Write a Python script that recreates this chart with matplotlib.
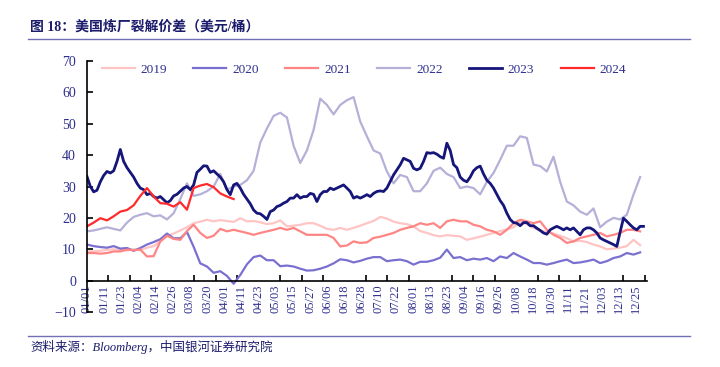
import numpy as np
import matplotlib
matplotlib.use("Agg")
from matplotlib import pyplot as plt
from matplotlib.lines import Line2D

plt.rcParams['font.family'] = ['Liberation Serif', 'Noto Sans CJK SC', 'DejaVu Sans']

# x axis: trading-day index of the year, labels every 8 days, tick marks every 10
date_labels = ["01/01", "01/11", "01/23", "02/04", "02/14", "02/26", "03/08", "03/20",
               "04/01", "04/11", "04/23", "05/03", "05/15", "05/27", "06/06", "06/18",
               "06/28", "07/10", "07/22", "08/01", "08/13", "08/23", "09/04", "09/16",
               "09/26", "10/08", "10/18", "10/30", "11/11", "11/21", "12/03", "12/13",
               "12/25"]
n_days = 261

# sampling step (trading days) of the values
step = 3.106
fine_step = step / 2

years = ["2019", "2020", "2021", "2022", "2023", "2024"]
colors = ["#FFC4C4", "#7A70D0", "#FF8585", "#B4B0D8", "#15157A", "#FF2B2B"]

s2019 = [9.3, 9.3, 9.5, 9.8, 10, 9.8, 9.6, 10, 9.7, 10.5, 11, 12.5, 14.2, 15, 16, 17,
         18.3, 18.8, 19.4, 18.9, 19.3, 19, 18.7, 19.9, 18.9, 19, 18.6, 18, 18.3, 19.2,
         17.3, 17.5, 17.8, 18.3, 18.3, 17.5, 16.5, 16.2, 16.8, 16.2, 16.8, 17.5, 18.3,
         19.0, 20.3, 19.8, 18.8, 18.3, 18.0, 17.3, 15.8, 15.2, 14.5, 14.1, 14.5, 14.3,
         14.1, 13.0, 13.5, 14.0, 14.6, 15.2, 15.8, 16.3, 17.0, 18.7, 18.0, 16.8, 16.0,
         15.5, 15.0, 14.3, 13.5, 12.5, 12.7, 12.3, 11.5, 10.9, 10.0, 10.2, 10.5, 11.0,
         13.0, 11.3]

s2020 = [11.5, 11, 10.7, 10.5, 11, 10.2, 10.4, 9.5, 10.4, 11.5, 12.3, 13.2, 15, 13.5,
         13.5, 15.5, 10.8, 5.5, 4.5, 2.5, 3.0, 1.5, -1.0, 1.8, 5.2, 7.5, 8.0, 6.5, 6.5,
         4.6, 4.8, 4.5, 3.8, 3.2, 3.3, 3.8, 4.5, 5.5, 6.8, 6.5, 5.8, 6.3, 7.0,
         7.5, 7.5, 6.2, 6.5, 6.7, 6.2, 5.1, 6.0, 6.0, 6.5, 7.3, 9.9, 7.2, 7.5, 6.5, 7.0,
         6.7, 7.2, 6.2, 7.7, 7.2, 8.8, 7.7, 6.7, 5.6, 5.6, 5.1, 5.6, 6.2, 6.7, 5.6, 5.8,
         6.2, 6.7, 5.6, 6.2, 7.2, 7.7, 8.8, 8.3, 9.0]

s2021 = [8.8, 8.8, 8.6, 8.8, 9.3, 9.3, 9.9, 9.7, 9.9, 7.7, 7.8, 12.5, 14.3, 13.3, 13.0,
         15.8, 17.8, 15.2, 13.6, 14.3, 16.5, 15.7, 16.2, 15.7, 15.2, 14.6, 15.2, 15.7,
         16.2, 16.8, 16.2, 16.8, 15.7, 14.6, 14.6, 14.6, 14.6, 13.6, 10.9, 11.2, 12.5,
         12.0, 12.2,
         13.6, 14.0, 14.6, 15.2, 16.2, 16.8, 17.3, 18.3, 17.8, 18.3, 16.8, 18.9, 19.4,
         18.9, 18.9, 17.8, 17.3, 16.2, 15.7, 14.6, 16.2, 18.3, 19.4, 18.9, 18.3, 18.9,
         16.2, 14.6, 13.6, 12.0, 12.5, 13.6, 14.1, 14.6, 15.2, 14.1, 14.6, 15.2, 16.2,
         16.2, 15.7]

s2022 = [15.7, 16.0, 16.5, 17.0, 16.5, 16.0, 18.5, 20.3, 21.0, 21.5, 20.5, 20.8, 19.5,
         21.5, 26.0, 31.0, 27.0,
         27.5, 28.5, 30, 34, 29, 30, 30.5, 32, 35, 44, 48.5, 52.5, 53.5, 52, 43, 37.5, 41.5,
         48, 58, 56, 53, 56, 57.5, 58.5, 50.7, 46, 41.5, 40.5, 34.8, 31, 33.7, 33, 28.5,
         28.5,
         31, 35, 36, 34, 33, 29.5, 30, 29.5, 27.5, 31.5, 34.3, 38.5, 43, 43, 46, 45.5, 37,
         36.5,
         34.8, 39.5, 31.5, 25.2, 24, 22, 21, 23, 17, 18.8, 20, 19.5, 21, 27.4, 33]

# 2023 read at twice the density
s2023 = [33.2, 30, 28.3, 28.8, 31.5, 33.5, 34.8, 34.3, 35, 38, 41.8, 38, 36, 34.5, 33,
         31, 29.5, 29, 27.4, 27.8, 26.8, 26.3, 26.8, 25.8, 24.8, 25.5, 27, 27.5, 28.5,
         29.5, 30, 29, 30.5,
         34.5, 35.5, 36.6, 36.5, 34.5, 35, 34, 33, 31.5, 29, 27.4, 30.5, 31, 29.5, 27.5,
         26, 24.5, 22.5, 21.5, 21.3, 20.5, 19.5, 22, 22.5, 23.6, 24, 24.7, 25.2, 26.3,
         26.3, 27.4, 26.3, 26.8, 26.8, 27.8,
         27.5, 25.2, 27.4, 28.4, 28.4, 29.5, 29, 29.5, 30, 30.5, 29.5, 28.4, 26.3, 26.8,
         26.3, 26.8, 27.4, 26.8, 27.8, 28.4, 28.6, 28.4, 29.5, 31.6, 33.7, 35.3, 36.9, 39,
         38.5, 38, 35.8, 35.3, 35.8, 38,
         40.8, 40.6, 40.8, 40.3, 39.5, 39, 43.8, 41.5, 37, 36, 33, 32, 31.5, 33, 35, 36,
         36.5, 34, 32, 31, 29.5, 27.5, 25.5, 24, 21.5, 19.5, 18.5, 18.3, 17.5, 18.5, 18.5,
         17.5, 17.5, 16.7, 16,
         15.2, 14.8, 16.2, 16.8, 17.3, 16.8, 16.2, 16.8, 16.2, 16.8, 15.7, 14.6, 16.2,
         16.8, 16.8, 16.2, 15.2, 13.6, 13, 12.5, 12, 11.5, 10.9, 15.5, 19.9, 18.9, 17.8,
         16.8, 16.2, 17.3, 17.3]

s2024 = [17.3, 18.5, 19.9, 19.2, 20.5, 22, 22.5, 24.0, 27, 29.5, 26.8, 24.7, 24.5, 23.6,
         25, 22.6, 29.5, 30.3, 30.8, 29.8, 27.8, 26.8, 26.0]

series = [s2019, s2020, s2021, s2022, s2023, s2024]
steps = [step, step, step, step, fine_step, step]

text_color = "#2E2E8E"
title_color = "#1C1C6C"

fig = plt.figure(figsize=(7.2, 3.67), dpi=100)
ax = fig.add_axes([87 / 720, 55 / 367, (647 - 87) / 720, (312 - 61) / 367])

for name, vals, st, c in zip(years, series, steps, colors):
    x = np.arange(len(vals)) * st
    lw = 2.0 if name == "2023" else 1.6
    ax.plot(x, vals, color=c, lw=lw, label=name, solid_joinstyle="round")

ax.set_xlim(0, n_days)
ax.set_ylim(-10, 70)

for side in ["top", "right"]:
    ax.spines[side].set_visible(False)
ax.spines["left"].set_linewidth(1.2)
ax.spines["bottom"].set_linewidth(1.2)
ax.spines["bottom"].set_position(("data", 0))

ax.set_xticks(np.arange(0, 8 * len(date_labels), 8))
ax.set_xticklabels(date_labels, rotation=90, fontsize=9, color=text_color)
ax.set_xticks(np.arange(0, n_days + 1, 10), minor=True)
ax.tick_params(axis="x", which="major", length=0, pad=3)
ax.tick_params(axis="x", which="minor", length=4, width=1.2, direction="in")

ax.set_yticks(np.arange(-10, 71, 10))
ax.tick_params(axis="y", length=4, width=1.2, direction="in", labelsize=10,
               labelcolor=text_color, pad=8)

leg = ax.legend(ncol=6, frameon=False, fontsize=9.5, handlelength=2.5,
                handletextpad=0.45, columnspacing=2.0, borderpad=0,
                loc="center left", bbox_to_anchor=(95 / 720, 1 - 70 / 367),
                bbox_transform=fig.transFigure)
for t in leg.get_texts():
    t.set_color(text_color)

fig.text(30 / 720, 1 - 27 / 367, "图 18：美国炼厂裂解价差（美元/桶）", fontsize=10,
         fontweight="bold", color=title_color, va="center", ha="left")
fig.add_artist(Line2D([28 / 720, 690 / 720], [1 - 39 / 367, 1 - 39 / 367],
                      color="#7070B8", lw=1.0, transform=fig.transFigure))
fig.add_artist(Line2D([28 / 720, 690 / 720], [1 - 336 / 367, 1 - 336 / 367],
                      color="#7070B8", lw=1.0, transform=fig.transFigure))
fig.text(30 / 720, 1 - 347 / 367, "资料来源：Bloomberg，中国银河证券研究院", fontsize=9,
         color=title_color, va="center", ha="left", style="italic")

fig.savefig("out.png", dpi=100)
